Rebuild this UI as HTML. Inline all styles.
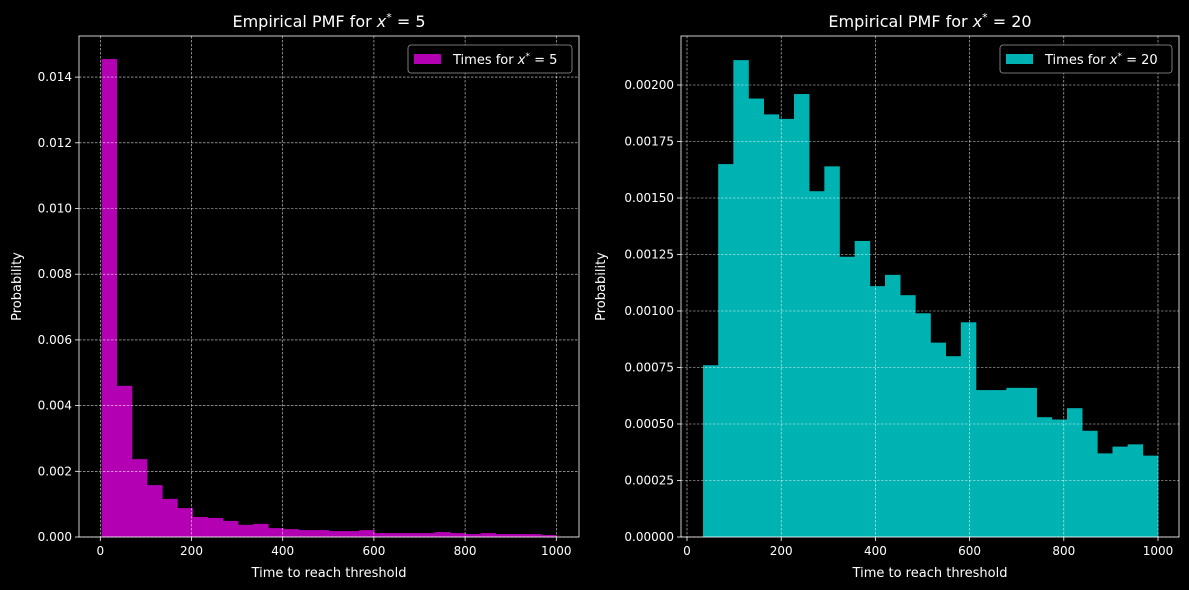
<!DOCTYPE html>
<html><head><meta charset="utf-8"><style>
html,body{margin:0;padding:0;background:#000;}
svg{display:block;font-family:"DejaVu Sans","Liberation Sans",sans-serif;}
</style></head><body>
<svg id="chart" width="1189" height="590" viewBox="0 0 1189 590"></svg>
<script>
const leftValues=[0.01455,0.0046,0.00237,0.00158,0.00116,0.00088,0.00061,0.00058,0.00049,0.00037,0.0004,0.00027,0.00024,0.00021,0.00021,0.00018,0.00018,0.00021,0.00012,0.00012,0.00012,0.00012,0.00015,0.00012,0.00009,0.00012,0.00009,0.00009,0.00009,0.00006];
const leftRange=[3,1000];
const leftYTicks=[0,0.002,0.004,0.006,0.008,0.010,0.012,0.014];
const leftYLabels=["0.000","0.002","0.004","0.006","0.008","0.010","0.012","0.014"];
const rightValues=[0.00076,0.00165,0.00211,0.00194,0.00187,0.00185,0.00196,0.00153,0.00164,0.00124,0.00131,0.00111,0.00116,0.00107,0.00099,0.00086,0.0008,0.00095,0.00065,0.00065,0.00066,0.00066,0.00053,0.00052,0.00057,0.00047,0.00037,0.0004,0.00041,0.00036];
const rightRange=[34,1000];
const rightYTicks=[0,0.00025,0.0005,0.00075,0.001,0.00125,0.0015,0.00175,0.002];
const rightYLabels=["0.00000","0.00025","0.00050","0.00075","0.00100","0.00125","0.00150","0.00175","0.00200"];
const xTicks=[0,200,400,600,800,1000];

const NS="http://www.w3.org/2000/svg";
const svg=document.getElementById('chart');
function mk(tag,attrs,parent){const e=document.createElementNS(NS,tag);for(const k in attrs)e.setAttribute(k,attrs[k]);(parent||svg).appendChild(e);return e;}

function panel(cfg){
  const g=mk('g',{});
  
  
  const L=cfg.left,R=cfg.right,T=36,B=537;
  const xs=v=>cfg.x0+(v-0)*(cfg.x1000-cfg.x0)/1000;
  const ys=v=>B-v*(B-cfg.yTop)/cfg.yTopVal;
  // bars
  const n=cfg.values.length,w=(cfg.range[1]-cfg.range[0])/n;
  cfg.values.forEach((v,i)=>{
    const a=xs(cfg.range[0]+i*w),b=xs(cfg.range[0]+(i+1)*w);
    const r=mk('rect',{x:a,y:ys(v),width:b-a+0.3,height:B-ys(v),fill:cfg.color},g);
    
    
  });
  // grid
  xTicks.forEach(t=>{
    const x=xs(t);
    const gl=mk('line',{x1:x,x2:x,y1:T,y2:B,stroke:'#fff','stroke-width':0.6,'stroke-dasharray':'2.5,1.5',opacity:0.85},g);
    
    
    mk('line',{x1:x,x2:x,y1:B,y2:B+4,stroke:'#fff','stroke-width':0.8},g);
    const tx=mk('text',{x:x,y:B+18,fill:'#fff','font-size':12,'text-anchor':'middle'},g);
    tx.textContent=t;
    
    
  });
  cfg.yTicks.forEach((t,i)=>{
    const y=ys(t);
    const gl=mk('line',{x1:L,x2:R,y1:y,y2:y,stroke:'#fff','stroke-width':0.6,'stroke-dasharray':'2.5,1.5',opacity:0.85},g);
    
    
    mk('line',{x1:L-4,x2:L,y1:y,y2:y,stroke:'#fff','stroke-width':0.8},g);
    const tx=mk('text',{x:L-7,y:y+4,fill:'#fff','font-size':12,'text-anchor':'end'},g);
    tx.textContent=cfg.yLabels[i];
    
    
  });
  const fr=mk('rect',{x:L,y:T,width:R-L,height:B-T,fill:'none',stroke:'#fff','stroke-width':0.8},g);
  
  
  const ti=mk('text',{x:(L+R)/2,y:27,fill:'#fff','font-size':16,'text-anchor':'middle'},g);
  ti.innerHTML='Empirical PMF for <tspan font-style="italic">x</tspan><tspan dy="-6" font-size="11">*</tspan><tspan dy="6"> = '+cfg.k+'</tspan>';
  
  
  const xl=mk('text',{x:(L+R)/2,y:577,fill:'#fff','font-size':13,'text-anchor':'middle'},g);
  xl.textContent='Time to reach threshold';
  
  
  const yl=mk('text',{x:0,y:0,fill:'#fff','font-size':13,'text-anchor':'middle',transform:`translate(${cfg.ylabX},${(T+B)/2}) rotate(-90)`},g);
  yl.textContent='Probability';
  
  
  // legend
  const lg=mk('g',{},g);
  
  
  mk('rect',{x:cfg.legX,y:45,width:R-7-cfg.legX,height:28,rx:3,fill:'#000',stroke:'#999','stroke-width':0.8},lg);
  mk('rect',{x:cfg.legX+6,y:54,width:27,height:10,fill:cfg.color},lg);
  const lt=mk('text',{x:cfg.legX+45,y:64,fill:'#fff','font-size':13},lg);
  lt.innerHTML='Times for <tspan font-style="italic">x</tspan><tspan dy="-5" font-size="9">*</tspan><tspan dy="5"> = '+cfg.k+'</tspan>';
}
panel({name:'left-panel',left:79,right:579,x0:100.3,x1000:556.3,yTop:471.3,yTopVal:0.002,values:leftValues,range:leftRange,yTicks:leftYTicks,yLabels:leftYLabels,color:'#b300b3',k:5,legX:408,ylabX:21});
panel({name:'right-panel',left:681,right:1179,x0:687,x1000:1158,yTop:85,yTopVal:0.002,values:rightValues,range:rightRange,yTicks:rightYTicks,yLabels:rightYLabels,color:'#00b3b3',k:20,legX:1000,ylabX:605});
</script>
</body></html>
